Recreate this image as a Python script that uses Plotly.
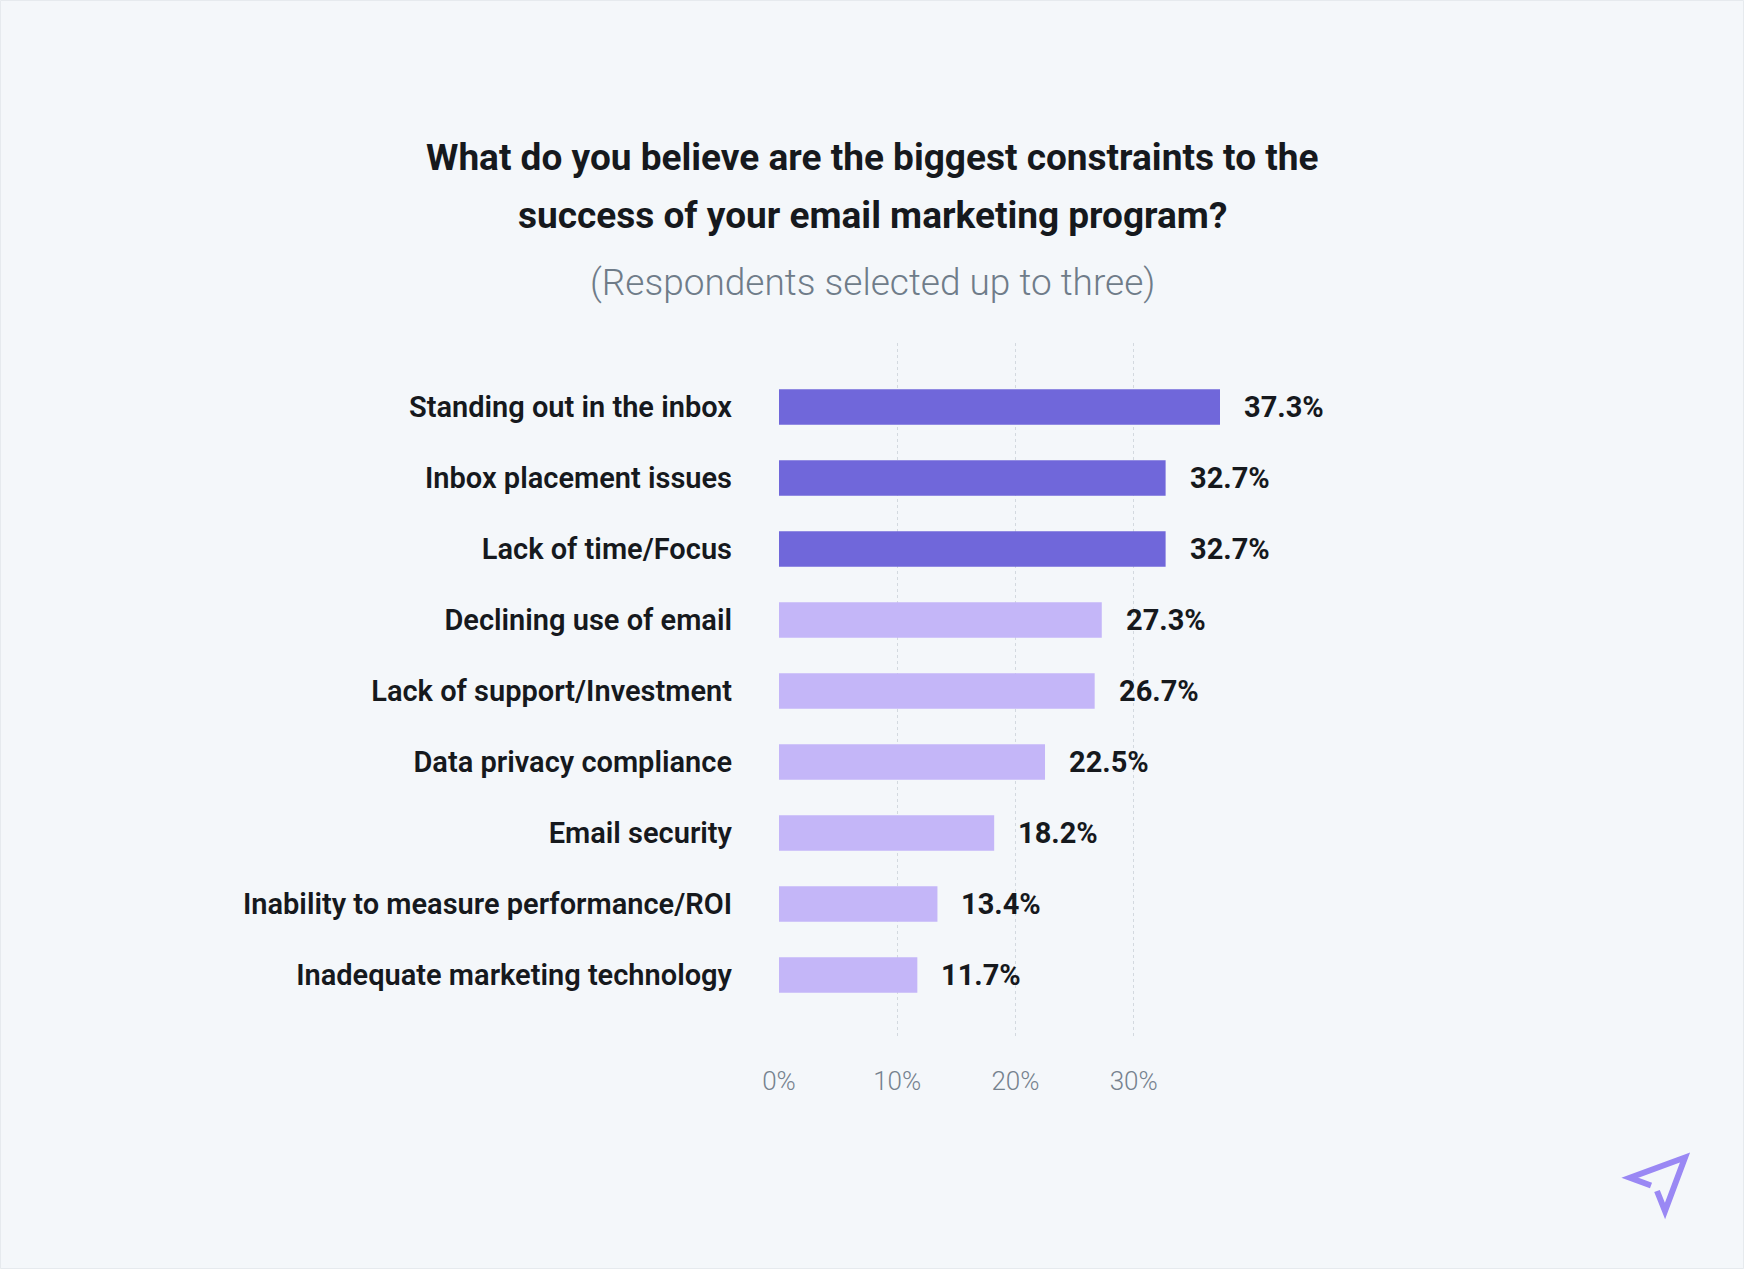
import plotly.graph_objects as go

# ---- data ----
categories = [
    "Standing out in the inbox",
    "Inbox placement issues",
    "Lack of time/Focus",
    "Declining use of email",
    "Lack of support/Investment",
    "Data privacy compliance",
    "Email security",
    "Inability to measure performance/ROI",
    "Inadequate marketing technology",
]
values = [37.3, 32.7, 32.7, 27.3, 26.7, 22.5, 18.2, 13.4, 11.7]
value_labels = ["37.3%", "32.7%", "32.7%", "27.3%", "26.7%", "22.5%", "18.2%", "13.4%", "11.7%"]
tick_values = [0, 10, 20, 30]
tick_labels = ["0%", "10%", "20%", "30%"]
title_lines = [
    "What do you believe are the biggest constraints to the",
    "success of your email marketing program?",
]
subtitle = "(Respondents selected up to three)"

# ---- style ----
W, H = 1744, 1269
L, R, T, B = 779, 1744 - 1220, 343, 1269 - 1039
BG = "#F4F7FA"
DARK = "#7067DA"
LIGHT = "#C4B6F8"
TEXT = "#16191D"
GREY = "#6F7C89"
FONT = "Roboto"
n_highlight = 3
colors = [DARK if i < n_highlight else LIGHT for i in range(len(categories))]


def px(x):
    return (x - L) / (W - L - R)


def py(y):
    return (H - B - y) / (H - T - B)


fig = go.Figure()
fig.add_trace(go.Bar(
    x=values, y=categories, orientation="h",
    marker=dict(color=colors, line=dict(width=0)),
    width=0.5, hoverinfo="skip",
))

annotations = []
for v, c, lab in zip(values, categories, value_labels):
    annotations.append(dict(
        x=v, y=c, xref="x", yref="y", text=lab, showarrow=False,
        xanchor="left", yanchor="middle", xshift=22,
        font=dict(family=FONT, size=29, color=TEXT, weight=700),
    ))

for line, yc in zip(title_lines, [157, 215]):
    annotations.append(dict(
        x=px(872), y=py(yc), xref="paper", yref="paper", text=line,
        showarrow=False, xanchor="center", yanchor="middle",
        font=dict(family=FONT, size=37, color=TEXT, weight=700),
    ))
annotations.append(dict(
    x=px(872), y=py(282), xref="paper", yref="paper", text=subtitle,
    showarrow=False, xanchor="center", yanchor="middle",
    font=dict(family=FONT, size=37, color=GREY, weight=300),
))

# logo (paper plane outline)
logo_pts = [(1651.0, 1185.5), (1630.0, 1177.7), (1685.0, 1157.5), (1665.0, 1211.0), (1657.0, 1191.0)]
path = "M " + " L ".join(f"{px(x):.5f},{py(y):.5f}" for x, y in logo_pts)
shapes = [
    dict(type="path", path=path, xref="paper", yref="paper",
         line=dict(color="#9A88F4", width=6), fillcolor="rgba(0,0,0,0)"),
    dict(type="rect", xref="paper", yref="paper",
         x0=px(0.5), x1=px(W - 0.5), y0=py(0.5), y1=py(H - 0.5),
         line=dict(color="#E6EAEE", width=1), fillcolor="rgba(0,0,0,0)", layer="below"),
]

fig.update_layout(
    width=W, height=H,
    margin=dict(l=L, r=R, t=T, b=B, pad=0),
    paper_bgcolor=BG, plot_bgcolor=BG,
    showlegend=False,
    annotations=annotations,
    shapes=shapes,
    bargap=0.5,
)
fig.update_xaxes(
    range=[0, 37.3], tickvals=tick_values, ticktext=tick_labels,
    showgrid=True, gridcolor="#D3D9DF", griddash="dot", gridwidth=1,
    zeroline=False, showline=False, ticks="",
    ticklabelstandoff=24,
    tickfont=dict(family=FONT, size=26, color="#76828E", weight=300),
    fixedrange=True,
)
fig.update_yaxes(
    type="category", categoryorder="array", categoryarray=categories,
    range=[8.9, -0.9], showgrid=False, zeroline=False, showline=False, ticks="",
    ticklabelstandoff=46,
    tickfont=dict(family=FONT, size=29, color=TEXT, weight=600),
    fixedrange=True,
)

fig.write_html(
    "out.html",
    config={"displayModeBar": False},
    post_script="document.body.style.margin='0';document.body.style.overflow='hidden';",
)
